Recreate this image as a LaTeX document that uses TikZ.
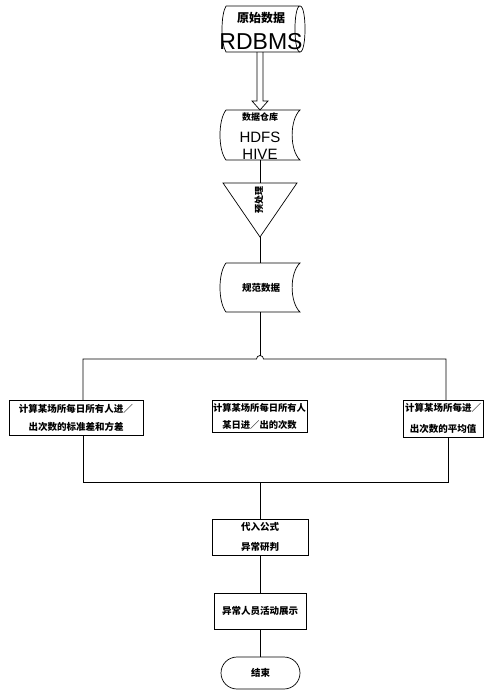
\documentclass[tikz,border=0pt]{standalone}
\usepackage{fontspec}
\newfontfamily\zh{Noto Sans CJK SC}
\newfontfamily\lat{Liberation Sans}
\usetikzlibrary{calc}
\newcommand\storedshape[1]{%
 \draw ($(#1.north west)+(6,0)$) -- (#1.north east)
   .. controls ($(#1.north east)+(-10.5,10)$) and ($(#1.south east)+(-10.5,-10)$) .. (#1.south east)
   -- ($(#1.south west)+(6,0)$)
   .. controls ($(#1.south west)+(-2,-10)$) and ($(#1.north west)+(-2,10)$) .. cycle;}
\tikzset{
  shapebox/.style={inner sep=0pt, outer sep=0pt},
  procbox/.style={draw, inner sep=0pt, outer sep=0pt, align=center},
  zhtxt/.style={inner sep=0pt, font=\zh\bfseries\fontsize{#1}{#1}\selectfont},
  lattxt/.style={inner sep=0pt, font=\lat\fontsize{#1}{#1}\selectfont},
}
\begin{document}
\begin{tikzpicture}[x=1pt,y=-1pt,line width=0.7pt]
\useasboundingbox[fill=white] (0,0) rectangle (494,699);

% top storage (RDBMS)
\node[shapebox, minimum width=78pt, minimum height=46pt] (s1) at (261,29) {};
\draw ($(s1.north west)+(4,0)$) -- (s1.north east)
   .. controls ($(s1.north east)+(6.7,0)$) and ($(s1.south east)+(6.7,0)$) .. (s1.south east)
   .. controls ($(s1.south east)+(-6.7,0)$) and ($(s1.north east)+(-6.7,0)$) .. (s1.north east);
\draw (s1.south east) -- ($(s1.south west)+(4,0)$)
   .. controls ($(s1.south west)+(-1.3,-9)$) and ($(s1.north west)+(-1.3,9)$) .. ($(s1.north west)+(4,0)$);
\node[zhtxt=12] (t1a) at (261,18) {原始数据};
\node[lattxt=23] (t1b) at (261,42) {RDBMS};

% data warehouse
\node[shapebox, minimum width=80pt, minimum height=50pt] (s2) at (260,135) {};
\storedshape{s2}
\node[zhtxt=9] (t2a) at (260,117) {数据仓库};
\node[lattxt=15] (t2b) at (260,137) {HDFS};
\node[lattxt=15] (t2c) at (260,154) {HIVE};

% hollow double arrow
\coordinate (a1) at (s2.north |- s1.south);
\draw ($(a1)+(-3,0)$) -- ($(s2.north)+(-3,-9)$) -- ($(s2.north)+(-8,-9)$) -- (s2.north)
  -- ($(s2.north)+(8,-9)$) -- ($(s2.north)+(3,-9)$) -- ($(a1)+(3,0)$);

% triangle
\node[shapebox, minimum width=74pt, minimum height=54pt] (tri) at (260,210) {};
\draw (tri.north west) -- (tri.north east) -- (tri.south) -- cycle;
\node[zhtxt=9, rotate=90] (t3) at (259,200) {预处理};
\draw (s2.south) -- (tri.north);

% normalized data
\node[shapebox, minimum width=80pt, minimum height=49pt] (s3) at (260,287.5) {};
\storedshape{s3}
\node[zhtxt=9.5] (t4) at (261,288) {规范数据};
\draw (tri.south) -- (s3.north);

% three process boxes
\node[procbox, minimum width=134pt, minimum height=35pt, font=\zh\bfseries\fontsize{9.5}{18}\selectfont] (b1) at (76,417.5) {计算某场所每日所有人进／\\出次数的标准差和方差};
\node[procbox, minimum width=95pt, minimum height=32pt, font=\zh\bfseries\fontsize{9.3}{17}\selectfont] (b2) at (259.5,416) {计算某场所每日所有人\\某日进／出的次数};
\node[procbox, minimum width=80pt, minimum height=37pt, font=\zh\bfseries\fontsize{9.5}{21}\selectfont] (b3) at (443,418.5) {计算某场所每进／\\出次数的平均值};

% split with line hop
\coordinate (j1) at (260,359);
\coordinate (jl) at (83,359);
\coordinate (jr) at (446,359);
\draw (s3.south) -- ($(j1)+(0,-3.5)$);
\draw (b1.north -| jl) -- (jl) -- ($(j1)+(-3.5,0)$) arc[start angle=180, end angle=0, radius=3.5pt] -- (jr) -- (jr |- b3.north);

% merge
\coordinate (kl) at (83,482);
\coordinate (kr) at (448,482);
\coordinate (k1) at (260,482);
\draw (b1.south -| kl) -- (kl) -- (kr) -- (kr |- b3.south);

% lower boxes
\node[procbox, minimum width=96pt, minimum height=36pt, font=\zh\bfseries\fontsize{9.5}{20}\selectfont] (b4) at (260,537) {代入公式\\异常研判};
\node[procbox, minimum width=92pt, minimum height=36pt, font=\zh\bfseries\fontsize{9.5}{9.5}\selectfont] (b5) at (260,611) {异常人员活动展示};
\node[draw, inner sep=0pt, rounded corners=16pt, minimum width=79pt, minimum height=32pt, font=\zh\bfseries\fontsize{9.5}{9.5}\selectfont] (t) at (260.5,673) {结束};

\draw (k1) -- (b4.north);
\draw (b4.south) -- (b5.north);
\draw (b5.south) -- (t.north -| b5.south);
\end{tikzpicture}
\end{document}
